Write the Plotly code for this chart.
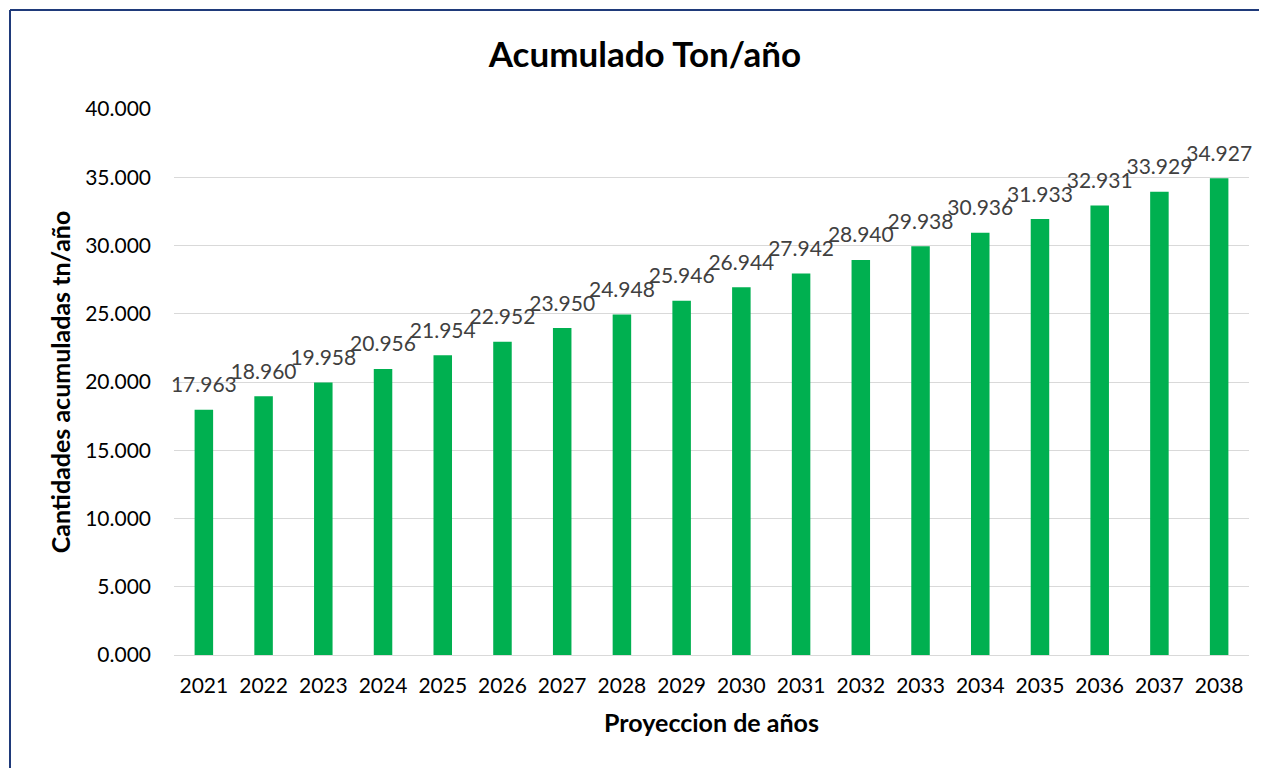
import plotly.graph_objects as go

# data (values in thousands of ton)
years = [str(y) for y in range(2021, 2039)]
acumulado = [17.963, 18.960, 19.958, 20.956, 21.954, 22.952, 23.950, 24.948, 25.946,
             26.944, 27.942, 28.940, 29.938, 30.936, 31.933, 32.931, 33.929, 34.927]

FONT = "Lato"

fig = go.Figure()

fig.add_trace(go.Bar(
    x=years,
    y=acumulado,
    marker=dict(color="#00B050", line=dict(width=0)),
    hoverinfo="x+y",
))

# data labels: invisible markers push the text a little above the bar tops
fig.add_trace(go.Scatter(
    x=years,
    y=acumulado,
    mode="markers+text",
    text=[f"{v:.3f}" for v in acumulado],
    textposition="top center",
    textfont=dict(family=FONT, size=21, color="#404040"),
    marker=dict(size=18, color="rgba(0,0,0,0)"),
    cliponaxis=False,
    hoverinfo="skip",
))

fig.update_layout(
    width=1267,
    height=768,
    template="plotly_white",
    showlegend=False,
    plot_bgcolor="white",
    paper_bgcolor="white",
    margin=dict(l=166, r=26, t=101, b=121),
    bargap=0.69,
    font=dict(family=FONT, color="#000000"),
    title=dict(
        text="<b>Acumulado Ton/año</b>",
        x=637 / 1267, xref="container", xanchor="center",
        y=1 - 47 / 768, yref="container", yanchor="middle",
        font=dict(family=FONT, size=35, color="#000000"),
    ),
)

fig.update_xaxes(
    type="category",
    range=[-0.5, len(years) - 0.5],
    title=dict(text="<b>Proyeccion de años</b>", font=dict(family=FONT, size=25), standoff=18),
    tickfont=dict(family=FONT, size=21, color="#000000"),
    showgrid=False,
    showline=True, linecolor="#d9d9d9", linewidth=1,
    ticks="", ticklabelstandoff=12,
)

fig.update_yaxes(
    title=dict(text="<b>Cantidades acumuladas tn/año</b>", font=dict(family=FONT, size=25), standoff=7),
    range=[0, 40], dtick=5, tick0=0, tickformat=".3f",
    tickfont=dict(family=FONT, size=21, color="#000000"),
    showgrid=True, gridcolor="#d9d9d9", gridwidth=1,
    zeroline=False, showline=False,
    ticks="", ticklabelstandoff=22,
)

# chart area border (top and left edges visible in the reference)
bx = (2 - 166) / 1075
by = 1 + (101 - 2) / 546
fig.add_shape(type="line", xref="paper", yref="paper",
              x0=bx, x1=1.2, y0=by, y1=by,
              line=dict(color="#1f3a7a", width=2))
fig.add_shape(type="line", xref="paper", yref="paper",
              x0=bx, x1=bx, y0=by, y1=-0.3,
              line=dict(color="#1f3a7a", width=2))

fig.write_html("out.html")
